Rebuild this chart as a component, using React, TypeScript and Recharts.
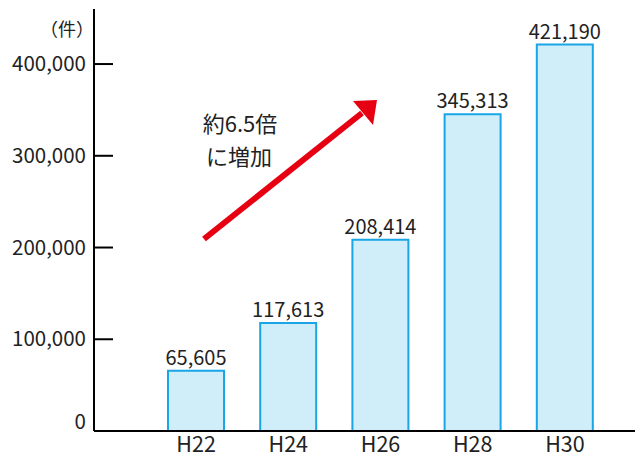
import { BarChart, Bar, XAxis, YAxis, LabelList } from 'recharts'

const years = ['H22', 'H24', 'H26', 'H28', 'H30']
const counts = [65605, 117613, 208414, 345313, 421190]
const yTicks = [0, 100000, 200000, 300000, 400000]

const data = years.map((year, i) => ({ year, count: counts[i] }))

const FONT = '"Noto Sans CJK JP", "Noto Sans", sans-serif'

function YTick(props: any) {
    const { x, y, payload } = props
    const isZero = payload.value === 0
    return (
        <g>
            {!isZero && <line x1={x + 8} y1={y} x2={x + 27} y2={y} stroke="#000" strokeWidth={2} />}
            <text
                x={x}
                y={isZero ? y - 9 : y}
                dy="0.35em"
                textAnchor="end"
                fontSize={20.5}
                fontFamily={FONT}
                fill="#222"
            >
                {payload.value.toLocaleString('en-US')}
            </text>
        </g>
    )
}

export default function App() {
    return (
        <div style={{ position: 'absolute', left: 0, top: 0, width: 635, height: 456, background: '#fff' }}>
            <BarChart
                width={635}
                height={456}
                data={data}
                margin={{ top: 9, right: 0, left: 0, bottom: 0 }}
            >
                <XAxis
                    dataKey="year"
                    height={25}
                    padding={{ left: 56, right: 24 }}
                    tickLine={false}
                    axisLine={{ stroke: '#000', strokeWidth: 2 }}
                    tick={{ fontSize: 21.5, fill: '#222', fontFamily: FONT }}
                    tickMargin={0}
                    interval={0}
                />
                <YAxis
                    width={94}
                    domain={[0, 460000]}
                    ticks={yTicks}
                    tickLine={false}
                    tickSize={0}
                    tickMargin={8}
                    axisLine={{ stroke: '#000', strokeWidth: 2 }}
                    tick={<YTick />}
                />
                <Bar
                    dataKey="count"
                    barSize={56}
                    fill="#cfeef9"
                    stroke="#19a5e6"
                    strokeWidth={2}
                    isAnimationActive={false}
                >
                    <LabelList
                        dataKey="count"
                        position="top"
                        offset={6}
                        formatter={(v: any) => Number(v).toLocaleString('en-US')}
                        style={{ fontSize: 20, fill: '#222', fontFamily: FONT }}
                    />
                </Bar>
            </BarChart>
            <svg
                width={635}
                height={456}
                style={{ position: 'absolute', left: 0, top: 0, pointerEvents: 'none' }}
            >
                <text x={67} y={30} dy="0.35em" textAnchor="middle" fontSize={18} fontFamily={FONT} fill="#222">
                    （件）
                </text>
                <line x1={204} y1={239} x2={362} y2={113} stroke="#e60012" strokeWidth={6} />
                <polygon points="353,101 377,100 373,125" fill="#e60012" />
                <text x={240} y={124} dy="0.35em" textAnchor="middle" fontSize={22} fontFamily={FONT} fill="#222">
                    約6.5倍
                </text>
                <text x={239} y={157} dy="0.35em" textAnchor="middle" fontSize={22} fontFamily={FONT} fill="#222">
                    に増加
                </text>
            </svg>
        </div>
    )
}
